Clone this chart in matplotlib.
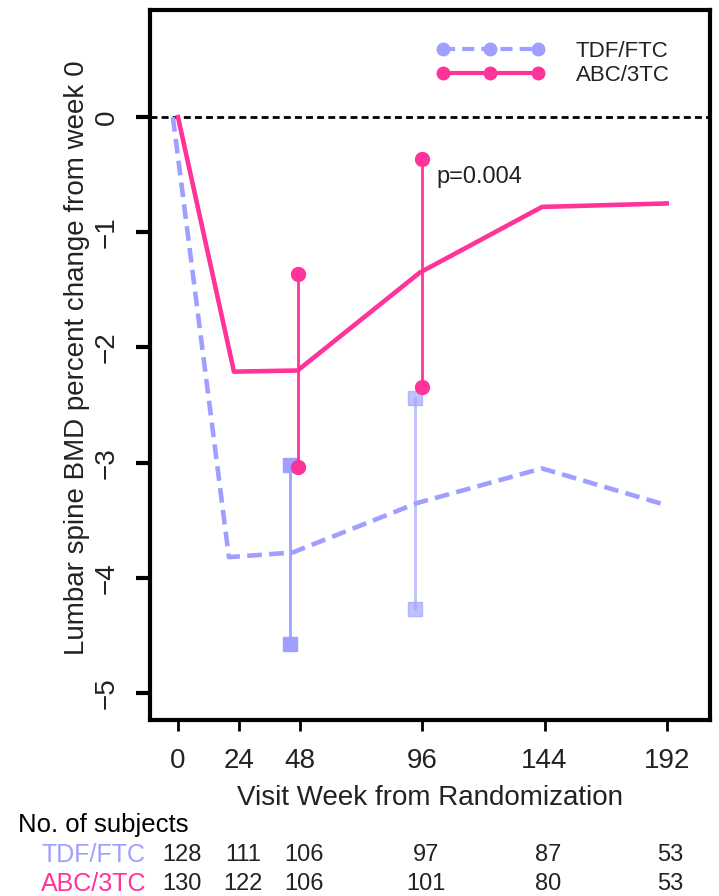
import matplotlib.pyplot as plt
import matplotlib.transforms as mtransforms

plt.rcParams["font.family"] = ["Liberation Sans", "DejaVu Sans"]

# weeks on the x axis
weeks = [0, 24, 48, 96, 144, 192]
tdf_weeks = [-2, 20, 45, 94, 143, 192]
abc_weeks = [0, 22, 47, 95, 143, 192]

# mean percent change from week 0
tdf_mean = [0, -3.82, -3.78, -3.35, -3.05, -3.37]
abc_mean = [0, -2.21, -2.20, -1.35, -0.78, -0.75]

# confidence intervals at weeks 48 and 96
ci_weeks_tdf = [44, 93]
ci_weeks_abc = [47, 96]
tdf_lo = [-4.57, -4.27]
tdf_hi = [-3.02, -2.44]
abc_lo = [-3.04, -2.34]
abc_hi = [-1.36, -0.36]

# number of subjects
tdf_n = [128, 111, 106, 97, 87, 53]
abc_n = [130, 122, 106, 101, 80, 53]

tdf_color = "#9f9fff"
abc_color = "#ff3399"
text_color = "#222222"

fig = plt.figure(figsize=(7.19, 8.96), dpi=100)
ax = fig.add_axes([0.2086, 0.1964, 0.7789, 0.7924])

ax.axhline(0, color="black", lw=2, linestyle=(0, (2.5, 1.5)), zorder=1)

# error bars
for x, lo, hi, a in zip(ci_weeks_tdf, tdf_lo, tdf_hi, [1.0, 0.65]):
    ax.plot([x, x], [lo, hi], color=tdf_color, lw=2, alpha=a, zorder=2)
    ax.plot([x, x], [lo, hi], "s", color=tdf_color, ms=10, alpha=a, zorder=2)
for x, lo, hi in zip(ci_weeks_abc, abc_lo, abc_hi):
    ax.plot([x, x], [lo, hi], color=abc_color, lw=2, zorder=3)
    ax.plot([x, x], [lo, hi], "o", color=abc_color, ms=10, zorder=3)

ax.plot(tdf_weeks, tdf_mean, color=tdf_color, lw=3.3, linestyle=(0, (3.2, 1.6)),
        zorder=2)
ax.plot(abc_weeks, abc_mean, color=abc_color, lw=3.3, zorder=3)

# legend handles
ax.plot([], [], color=tdf_color, lw=3, linestyle=(0, (2.9, 1.7)), marker="o",
        ms=9, label="TDF/FTC")
ax.plot([], [], color=abc_color, lw=3, marker="o", ms=9, label="ABC/3TC")
leg = ax.legend(loc="upper left", bbox_to_anchor=(0.475, 0.985), frameon=False,
                numpoints=3, handlelength=4.9, handletextpad=1.4,
                labelspacing=0.15, fontsize=16)
for t in leg.get_texts():
    t.set_color(text_color)

ax.text(101.5, -0.52, "p=0.004", fontsize=17, color=text_color, va="center")

ax.set_xlim(-11, 209)
ax.set_ylim(-5.234, 0.929)
ax.set_xticks(weeks)
ax.set_yticks([0, -1, -2, -3, -4, -5])
ax.tick_params(axis="x", length=8, width=2, pad=12, labelsize=20,
               labelcolor=text_color)
ax.tick_params(axis="y", length=10, width=3, pad=12, labelsize=20,
               labelcolor=text_color, labelrotation=90)
for lab in ax.get_yticklabels():
    lab.set_va("center")

for s in ax.spines.values():
    s.set_linewidth(3)

ax.set_ylabel("Lumbar spine BMD percent change from week 0", fontsize=20,
              color=text_color)
ax.yaxis.set_label_coords(-0.108, 0.51)
ax.set_xlabel("Visit Week from Randomization", fontsize=20,
              color=text_color, labelpad=8)

# number of subjects table
trans = mtransforms.blended_transform_factory(ax.transData, fig.transFigure)
fig.text(18 / 719, 1 - 825 / 896, "No. of subjects", fontsize=18.5,
         color="black", va="center", ha="left")
fig.text(146 / 719, 1 - 855 / 896, "TDF/FTC", fontsize=18, color=tdf_color,
         va="center", ha="right")
fig.text(146 / 719, 1 - 884 / 896, "ABC/3TC", fontsize=18, color=abc_color,
         va="center", ha="right")
for w, n1, n2 in zip(weeks, tdf_n, abc_n):
    ax.text(w + 1.5, 1 - 855 / 896, str(n1), transform=trans, fontsize=17,
            color=text_color, ha="center", va="center")
    ax.text(w + 1.5, 1 - 884 / 896, str(n2), transform=trans, fontsize=17,
            color=text_color, ha="center", va="center")

fig.savefig("out.png", dpi=100)
